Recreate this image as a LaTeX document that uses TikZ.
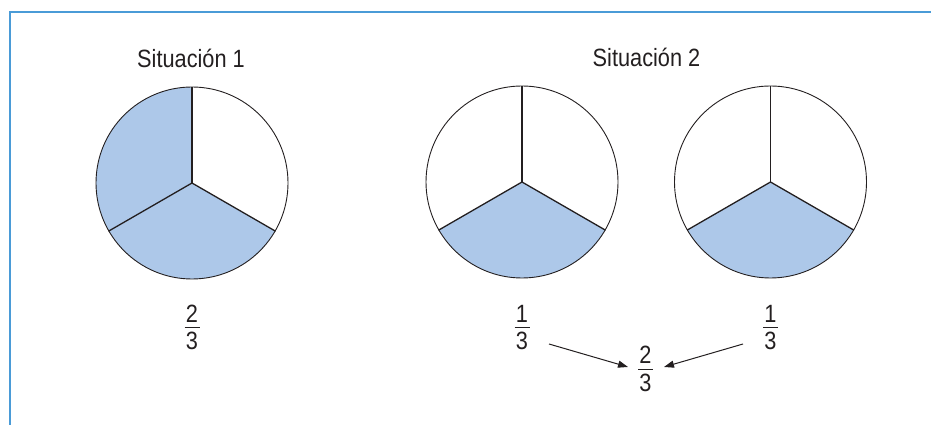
\documentclass[tikz,border=0pt]{standalone}
\usepackage{fontspec}
\setmainfont{Liberation Sans}[FakeStretch=0.87]
\usetikzlibrary{arrows.meta}
\definecolor{framecol}{HTML}{4A9BD7}
\definecolor{piefill}{HTML}{ADC8E9}
\definecolor{ink}{HTML}{231F20}
\newcommand\myfrac[2]{\vbox{\offinterlineskip\halign{\hfil##\hfil\cr\hbox{#1}\cr\noalign{\kern5pt}\vrule height .5pt depth .5pt width 15pt\cr\noalign{\kern4pt}\hbox{#2}\cr}}}
\tikzset{
  pie/.style={circle, draw=ink, line width=0.9pt, minimum size=192pt, inner sep=0pt},
  radius line/.style={draw=ink, line width=1.3pt},
  title/.style={font=\fontsize{25}{30}\selectfont, text=ink, anchor=base, inner sep=0pt},
  fracnode/.style={font=\fontsize{25}{30}\selectfont, text=ink, inner sep=0pt},
  arr/.style={draw=ink, line width=1pt, -{Triangle[length=10pt,width=7pt]}},
  frameline/.style={draw=framecol, line width=1.6pt}
}
\begin{document}
\begin{tikzpicture}[x=1pt,y=1pt]
\useasboundingbox (0,0) rectangle (931,425);
\draw[frameline] (10,0) -- (10,413) -- (931,413);
% titles
\node[title] (t1) at (191,357) {Situación 1};
\node[title] (t2) at (646.5,358) {Situación 2};
% pie 1
\fill[piefill] (192,242) -- ++(90:96pt) arc[start angle=90,end angle=330,radius=96pt] -- cycle;
\node[pie] (p1) at (192,242) {};
\draw[radius line] (p1.center) -- (p1.90);
\draw[radius line] (p1.center) -- (p1.210);
\draw[radius line] (p1.center) -- (p1.330);
% pie 2
\fill[piefill] (522,243) -- ++(210:96pt) arc[start angle=210,end angle=330,radius=96pt] -- cycle;
\node[pie] (p2) at (522,243) {};
\draw[radius line] (p2.center) -- (p2.90);
\draw[radius line] (p2.center) -- (p2.210);
\draw[radius line] (p2.center) -- (p2.330);
% pie 3
\fill[piefill] (770.5,243) -- ++(210:96pt) arc[start angle=210,end angle=330,radius=96pt] -- cycle;
\node[pie] (p3) at (770.5,243) {};
\draw[radius line] (p3.center) -- (p3.90);
\draw[radius line] (p3.center) -- (p3.210);
\draw[radius line] (p3.center) -- (p3.330);
% fractions
\node[fracnode] (f0) at (192,97.5) {\myfrac{2}{3}};
\node[fracnode] (f1) at (522,97.5) {\myfrac{1}{3}};
\node[fracnode] (f2) at (770.5,97.5) {\myfrac{1}{3}};
\node[fracnode] (f3) at (645.5,56) {\myfrac{2}{3}};
% arrows
\draw[arr] ([shift={(27,-16.5)}]f1.center) -- ([shift={(-17.5,2)}]f3.center);
\draw[arr] ([shift={(-27.5,-16.5)}]f2.center) -- ([shift={(18.5,2)}]f3.center);
\end{tikzpicture}
\end{document}
